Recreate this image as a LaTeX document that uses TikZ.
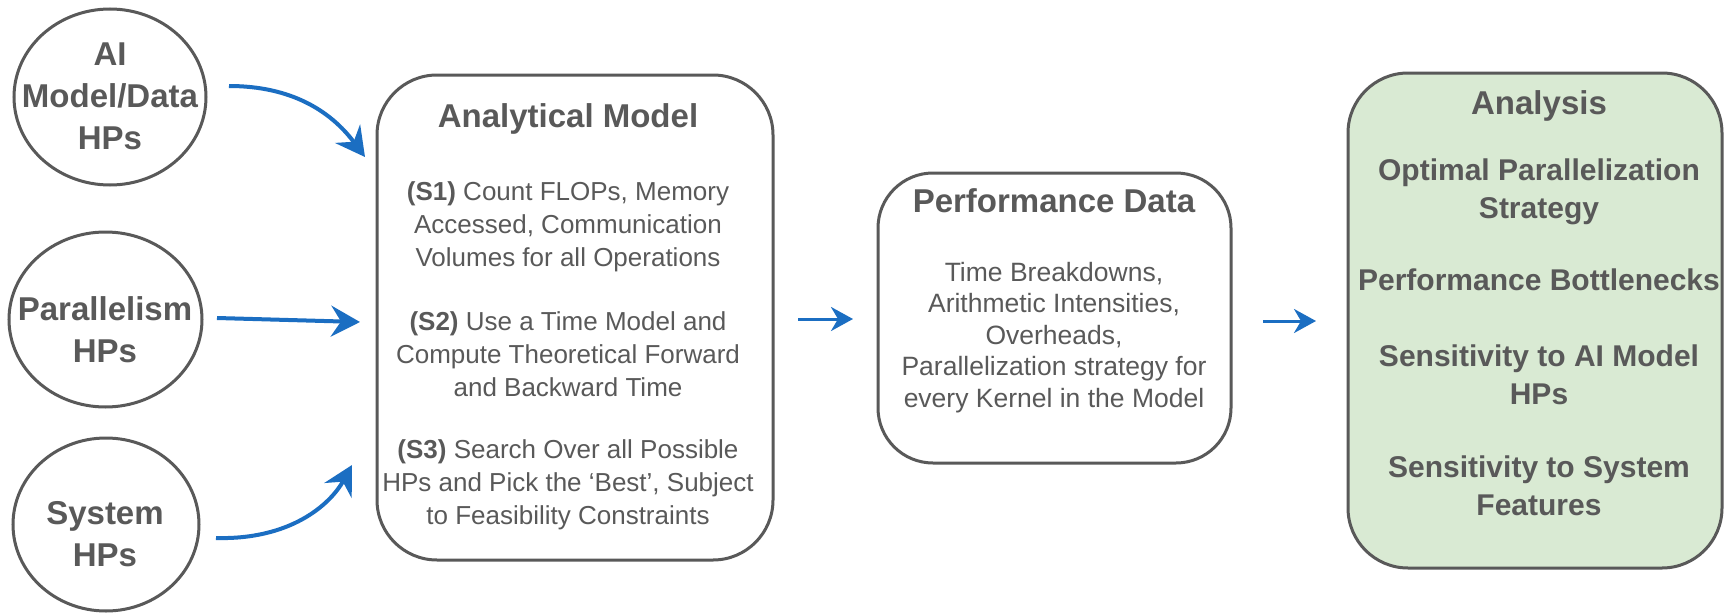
\documentclass[tikz,border=0pt]{standalone}
\usepackage{fontspec}
\setmainfont{Liberation Sans}
\usetikzlibrary{arrows.meta,shapes.geometric}
\definecolor{ink}{HTML}{595959}
\definecolor{flow}{HTML}{1B6EC2}
\definecolor{leaf}{HTML}{D9EAD3}
\begin{document}
\begin{tikzpicture}[x=1pt,y=-1pt,
  hp/.style={ellipse, draw=ink, line width=3pt, inner sep=0pt},
  panel/.style={draw=ink, line width=3pt, rounded corners=#1, inner sep=0pt},
  hptext/.style={text=ink, align=center, inner sep=0pt,
    font=\fontsize{33}{42}\selectfont\bfseries},
  ttl/.style={text=ink, inner sep=0pt, font=\fontsize{33}{40}\selectfont\bfseries},
  body/.style={text=ink, align=center, inner sep=0pt, font=\fontsize{26}{33}\selectfont},
  pbody/.style={text=ink, align=center, inner sep=0pt, font=\fontsize{26.5}{31.5}\selectfont},
  item/.style={text=ink, align=center, inner sep=0pt, font=\fontsize{30}{38.5}\selectfont\bfseries},
  feed/.style={draw=flow, line width=4pt, -{Stealth[length=29pt,width=31pt,inset=10pt]}},
  link/.style={draw=flow, line width=3pt, -{Stealth[length=22pt,width=24pt,inset=7pt]}}
]
\useasboundingbox[fill=white] (0,0) rectangle (1725,613);

% hyper-parameter inputs
\node[hp, minimum width=192pt, minimum height=176pt] (e1) at (110,97) {};
\node[hp, minimum width=193pt, minimum height=175pt] (e2) at (105.5,319.5) {};
\node[hp, minimum width=186pt, minimum height=173pt] (e3) at (106,524.5) {};
\node[hptext] (t1) at (110,96) {AI\\Model/Data\\HPs};
\node[hptext] (t2) at (105,329.5) {Parallelism\\HPs};
\node[hptext] (t3) at (105,534.5) {System\\HPs};

% analytical model
\node[panel=60pt, minimum width=396pt, minimum height=485pt] (am) at (575,317.5) {};
\node[ttl] (amt) at (568,119) {Analytical Model};
\node[body] (s1) at (568,226.5) {\textbf{(S1)} Count FLOPs, Memory\\Accessed, Communication\\Volumes for all Operations};
\node[body] (s2) at (568,354) {\textbf{(S2)} Use a Time Model and\\Compute Theoretical Forward\\and Backward Time};
\node[body] (s3) at (568,484.5) {\textbf{(S3)} Search Over all Possible\\HPs and Pick the ‘Best’, Subject\\to Feasibility Constraints};

% performance data
\node[panel=55pt, minimum width=353pt, minimum height=290pt] (pd) at (1054.5,318) {};
\node[ttl] (pdt) at (1054,201) {Performance Data};
\node[pbody] (pdb) at (1054,337.5) {Time Breakdowns,\\Arithmetic Intensities,\\Overheads,\\Parallelization strategy for\\every Kernel in the Model};

% analysis
\node[panel=60pt, fill=leaf, minimum width=374pt, minimum height=495pt] (an) at (1535,320.5) {};
\node[ttl] (ant) at (1539,106) {Analysis};
\node[item] (i1) at (1539,192) {Optimal Parallelization\\Strategy};
\node[item] (i2) at (1539,280) {Performance Bottlenecks};
\node[item] (i3) at (1539,375) {Sensitivity to AI Model\\HPs};
\node[item] (i4) at (1539,486) {Sensitivity to System\\Features};

% connector end points
\coordinate (a1s) at (229,86);   \coordinate (a1e) at (365,157);
\coordinate (a2s) at (217,318);  \coordinate (a2e) at (360,322);
\coordinate (a3s) at (216,538);  \coordinate (a3e) at (352,465);
\coordinate (a4s) at (798,319);  \coordinate (a4e) at (853,319);
\coordinate (a5s) at (1263,321); \coordinate (a5e) at (1316,321);

\draw[feed] (a1s) .. controls (290,86) and (330,110) .. (a1e);
\draw[feed] (a2s) -- (a2e);
\draw[feed] (a3s) .. controls (290,540) and (330,505) .. (a3e);
\draw[link] (a4s) -- (a4e);
\draw[link] (a5s) -- (a5e);
\end{tikzpicture}
\end{document}
